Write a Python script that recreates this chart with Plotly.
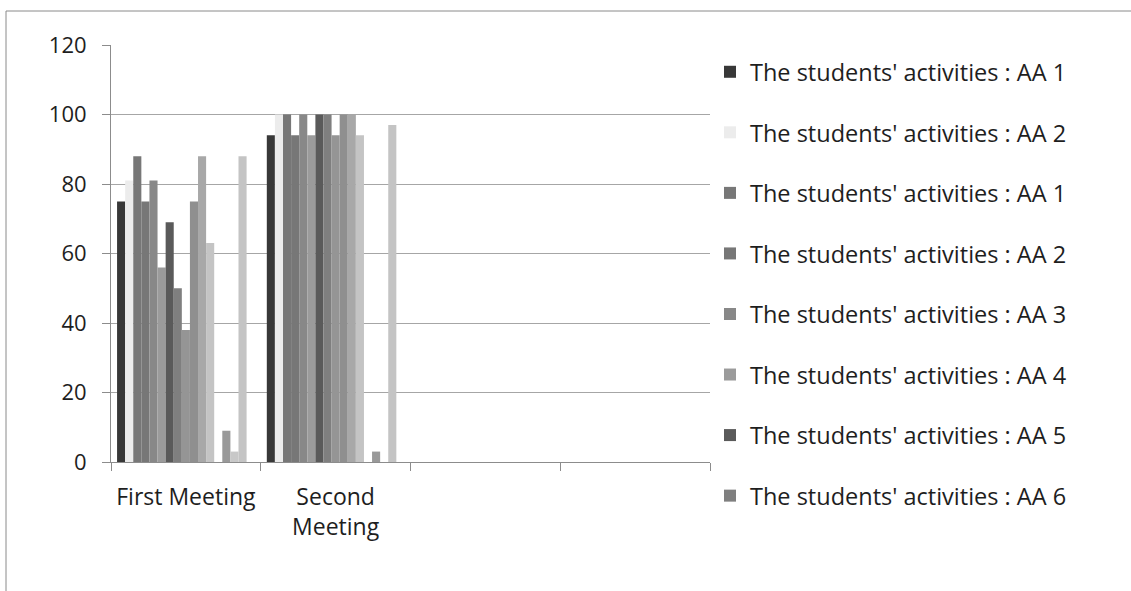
import plotly.graph_objects as go

# Categories on the x axis (the last two slots are empty in the source workbook)
categories = ["First Meeting", "Second<br>Meeting", " ", "  "]

# Series names, in the order they are plotted
series_names = [
    "The students' activities : AA 1",
    "The students' activities : AA 2",
    "The students' activities : AA 1",
    "The students' activities : AA 2",
    "The students' activities : AA 3",
    "The students' activities : AA 4",
    "The students' activities : AA 5",
    "The students' activities : AA 6",
    "The students' activities : AA 7",
    "The students' activities : AA 8",
    "The students' activities : AA 9",
    "The students' activities : AA 10",
    "The students' activities : AA 11",
    "The students' activities : AA 12",
    "The students' activities : AA 13",
    "The students' activities : AA 14",
    "The students' activities : AA 15",
]

# Percentages per series for First Meeting / Second Meeting
first_meeting = [75, 81, 88, 75, 81, 56, 69, 50, 38, 75, 88, 63, 0, 9, 3, 88, 0]
second_meeting = [94, 100, 100, 94, 100, 94, 100, 100, 94, 100, 100, 94, 0, 3, 0, 97, 0]

# Grey fills for the series
series_colors = [
    "#383838", "#ececec", "#777777", "#777777", "#888888", "#9b9b9b",
    "#5a5a5a", "#7f7f7f", "#959595", "#8f8f8f", "#a8a8a8", "#c4c4c4",
    "#b0b0b0", "#999999", "#c8c8c8", "#c4c4c4", "#b8b8b8",
]

shown_in_legend = 8

fig = go.Figure()
for i, name in enumerate(series_names):
    fig.add_trace(go.Bar(
        x=categories,
        y=[first_meeting[i], second_meeting[i], None, None],
        name=name,
        marker=dict(color=series_colors[i], line=dict(width=0)),
        legendgroup=f"g{i}",
        showlegend=i < shown_in_legend,
    ))

font_family = "Open Sans, Liberation Sans, sans-serif"

fig.update_layout(
    width=1131,
    height=591,
    margin=dict(l=111, r=421, t=45, b=129),
    paper_bgcolor="white",
    plot_bgcolor="white",
    barmode="group",
    bargap=0.081,
    bargroupgap=0,
    font=dict(family=font_family, size=22, color="#1e1e1e"),
    legend=dict(
        x=(710 - 111) / 599,
        xanchor="left",
        y=0.988,
        yanchor="top",
        font=dict(family=font_family, size=23.5, color="#1e1e1e"),
        tracegroupgap=27,
        itemwidth=30,
        maxheight=580,
        bgcolor="rgba(0,0,0,0)",
    ),
    xaxis=dict(
        type="category",
        categoryorder="array",
        categoryarray=categories,
        range=[-0.5, 3.5],
        showline=True,
        linecolor="#8c8c8c",
        linewidth=1,
        ticks="outside",
        tickson="boundaries",
        ticklen=8,
        tickcolor="#8c8c8c",
        showgrid=False,
        tickfont=dict(family=font_family, size=23, color="#1e1e1e"),
        ticklabelstandoff=14,
    ),
    yaxis=dict(
        range=[0, 120],
        dtick=20,
        showline=True,
        linecolor="#8c8c8c",
        linewidth=1,
        ticks="outside",
        ticklen=8,
        tickcolor="#8c8c8c",
        showgrid=True,
        gridcolor="#a6a6a6",
        gridwidth=1,
        zeroline=False,
        tickfont=dict(family=font_family, size=22, color="#1e1e1e"),
        ticklabelstandoff=11,
    ),
)

# Chart-area frame (left and top edges)
fig.add_shape(type="line", xref="paper", yref="paper",
              x0=(6 - 111) / 599, x1=(1131 - 111) / 599,
              y0=(462 - 11) / 417, y1=(462 - 11) / 417,
              line=dict(color="#8a8a8a", width=1))
fig.add_shape(type="line", xref="paper", yref="paper",
              x0=(6 - 111) / 599, x1=(6 - 111) / 599,
              y0=(462 - 11) / 417, y1=(462 - 600) / 417,
              line=dict(color="#8a8a8a", width=1))

fig.write_html("out.html")
